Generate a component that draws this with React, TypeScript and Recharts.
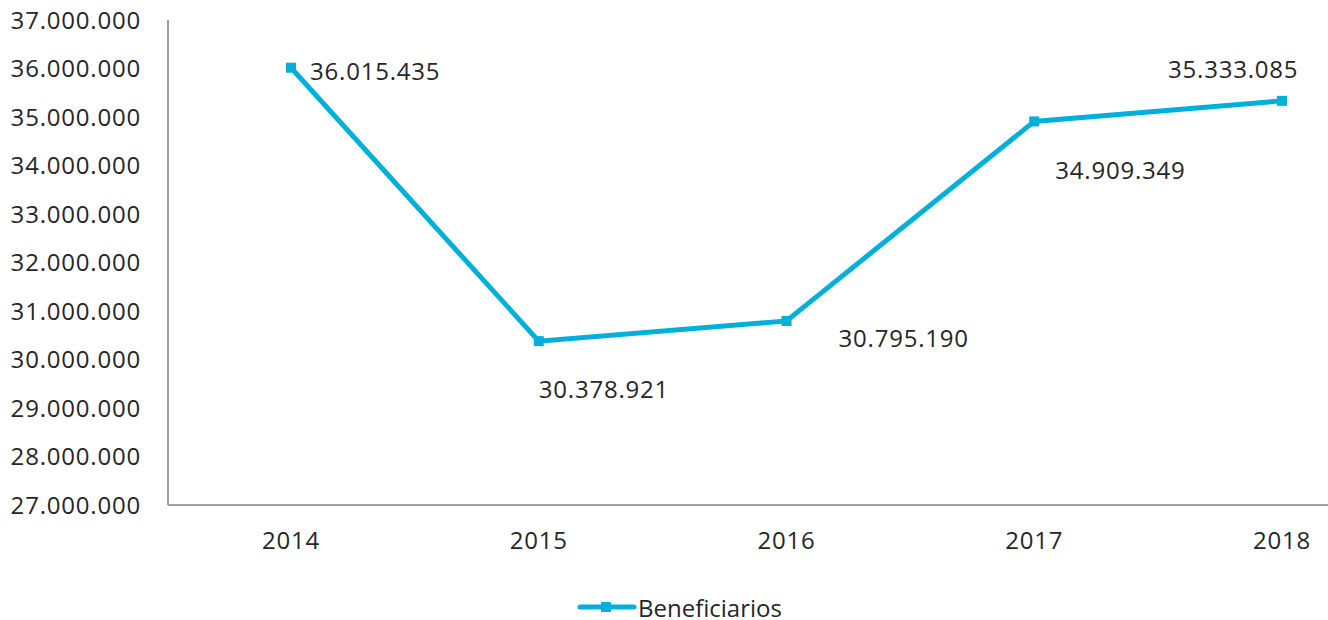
import React from "react";
import { LineChart, Line, XAxis, YAxis, Legend, LabelList } from "recharts";

const YEARS = ["2014", "2015", "2016", "2017", "2018"];
const BENEFICIARIOS = [36015435, 30378921, 30795190, 34909349, 35333085];
const Y_TICKS = [
  27000000, 28000000, 29000000, 30000000, 31000000, 32000000, 33000000,
  34000000, 35000000, 36000000, 37000000,
];

const data = YEARS.map((year, i) => ({ year, beneficiarios: BENEFICIARIOS[i] }));

const LINE_COLOR = "#00B0DA";
const TEXT_COLOR = "#262626";
const AXIS_COLOR = "#A0A0A0";
const FONT = "'Open Sans', sans-serif";
const SPACING = 0.8;

// where each data label sits relative to its point (as in the original)
const LABEL_OFFSETS = [
  { dx: 19, dy: 3 },
  { dx: 0, dy: 47 },
  { dx: 52, dy: 17 },
  { dx: 21, dy: 48 },
  { dx: -114, dy: -32 },
];

function formatThousands(v: number): string {
  return String(Math.round(v)).replace(/\B(?=(\d{3})+(?!\d))/g, ".");
}

const SquareDot = (props: any) => {
  const { cx, cy, index } = props;
  if (cx == null || cy == null) return null;
  return <rect key={index} x={cx - 5} y={cy - 5} width={10} height={10} fill={LINE_COLOR} />;
};

const renderLabel = (props: any) => {
  const { x, y, value, index } = props;
  const off = LABEL_OFFSETS[index] || { dx: 0, dy: 0 };
  return (
    <text
      x={x + off.dx}
      y={y + off.dy}
      textAnchor="start"
      dominantBaseline="central"
      fontSize={24}
      fontFamily={FONT}
      letterSpacing={SPACING}
      fill={TEXT_COLOR}
    >
      {formatThousands(value as number)}
    </text>
  );
};

// legend drawn as svg so the text is not clipped by an html line box
const LegendContent = () => (
  <svg width={230} height={26} style={{ display: "block" }}>
    <line x1={4} y1={13} x2={58} y2={13} stroke={LINE_COLOR} strokeWidth={5} strokeLinecap="round" />
    <rect x={25} y={8} width={10} height={10} fill={LINE_COLOR} />
    <text
      x={62}
      y={13}
      dominantBaseline="central"
      fontSize={24}
      fontFamily={FONT}
      fill={TEXT_COLOR}
    >
      Beneficiarios
    </text>
  </svg>
);

export default function App() {
  return (
    <div
      style={{
        position: "absolute",
        left: 0,
        top: 0,
        width: 1328,
        height: 620,
        overflow: "hidden",
        background: "#fff",
      }}
    >
      <LineChart
        width={1328}
        height={620}
        data={data}
        margin={{ top: 20, right: 0, left: 0, bottom: 39 }}
        style={{ fontFamily: FONT }}
      >
        <XAxis
          dataKey="year"
          height={50}
          padding={{ left: 123, right: 46 }}
          axisLine={{ stroke: AXIS_COLOR, strokeWidth: 2 }}
          tickLine={false}
          tickMargin={21}
          tick={{ fontSize: 24, fill: TEXT_COLOR, fontFamily: FONT, letterSpacing: SPACING }}
        />
        <YAxis
          width={168}
          domain={[27000000, 37000000]}
          ticks={Y_TICKS}
          interval={0}
          tickFormatter={formatThousands}
          axisLine={{ stroke: AXIS_COLOR, strokeWidth: 2 }}
          tickLine={false}
          tickMargin={21}
          tick={{ fontSize: 24, fill: TEXT_COLOR, fontFamily: FONT, letterSpacing: SPACING }}
        />
        <Legend
          content={<LegendContent />}
          verticalAlign="bottom"
          wrapperStyle={{ top: 594, left: 576, width: 230 }}
        />
        <Line
          type="linear"
          dataKey="beneficiarios"
          name="Beneficiarios"
          stroke={LINE_COLOR}
          strokeWidth={5}
          dot={SquareDot}
          activeDot={false}
          isAnimationActive={false}
        >
          <LabelList dataKey="beneficiarios" content={renderLabel} />
        </Line>
      </LineChart>
    </div>
  );
}
